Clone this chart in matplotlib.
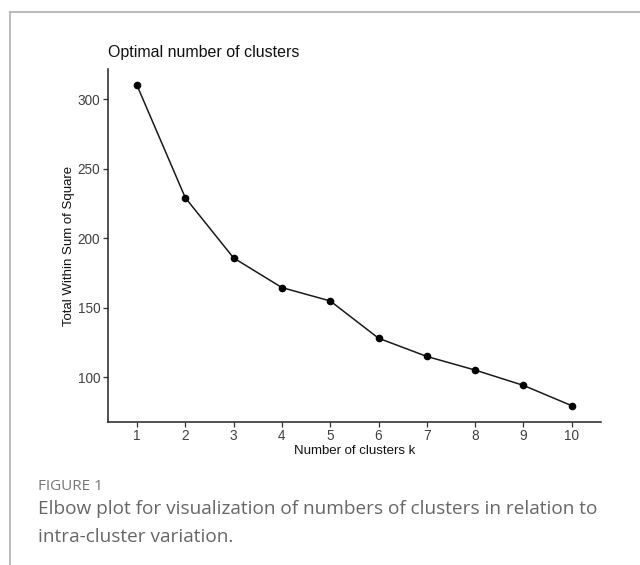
import matplotlib
matplotlib.use("Agg")
import matplotlib.pyplot as plt
from matplotlib.lines import Line2D

k = [1, 2, 3, 4, 5, 6, 7, 8, 9, 10]
wss = [310.0, 229.2, 185.9, 164.6, 155.0, 128.2, 115.1, 105.3, 94.3, 79.7]
x_ticks = [1, 2, 3, 4, 5, 6, 7, 8, 9, 10]
y_ticks = [100, 150, 200, 250, 300]

plt.rcParams["font.family"] = ["Liberation Sans", "DejaVu Sans"]

W, H = 640, 565
fig = plt.figure(figsize=(W / 100, H / 100), dpi=100)
fig.patch.set_facecolor("white")

# outer frame lines (top and left)
fig.add_artist(Line2D([10 / W, 1.0], [1 - 12 / H, 1 - 12 / H], color="#b0b0b0", lw=1.2))
fig.add_artist(Line2D([10 / W, 10 / W], [0.0, 1 - 12 / H], color="#b0b0b0", lw=1.2))

left, right = 108 / W, 600.7 / W
bottom, top = 1 - 421.7 / H, 1 - 69.3 / H
ax = fig.add_axes([left, bottom, right - left, top - bottom])

ax.plot(k, wss, color="#1a1a1a", lw=1.1, marker="o", markersize=4.5,
        markerfacecolor="black", markeredgecolor="black")

ax.set_xlim(0.4, 10.6)
ymin, ymax = min(wss), max(wss)
pad = (ymax - ymin) * 0.05
ax.set_ylim(ymin - pad, ymax + pad)
ax.set_xticks(x_ticks)
ax.set_xticklabels([str(v) for v in x_ticks])
ax.set_yticks(y_ticks)

for s in ["top", "right"]:
    ax.spines[s].set_visible(False)
for s in ["left", "bottom"]:
    ax.spines[s].set_color("#222222")
    ax.spines[s].set_linewidth(1.1)

ax.tick_params(axis="both", direction="out", length=3.5, width=0.9, color="#333333",
               labelsize=9.8, labelcolor="#404040", pad=2)

ax.set_xlabel("Number of clusters k", fontsize=9.5, color="#111111", labelpad=1)
ax.set_ylabel("Total Within Sum of Square", fontsize=9.5, color="#111111", labelpad=2)
ax.set_title("Optimal number of clusters", fontsize=11.5, color="#111111", loc="left", pad=9)

cap_font = "Open Sans"
fig.text(38 / W, 1 - 486 / H, "FIGURE 1", fontsize=11, family=cap_font,
         color="#777777", va="center", ha="left")
fig.text(38 / W, 1 - 509 / H, "Elbow plot for visualization of numbers of clusters in relation to",
         fontsize=13.7, family=cap_font, color="#666666", va="center", ha="left")
fig.text(38 / W, 1 - 537 / H, "intra-cluster variation.",
         fontsize=13.7, family=cap_font, color="#666666", va="center", ha="left")

fig.savefig("out.png", dpi=100, facecolor="white")
